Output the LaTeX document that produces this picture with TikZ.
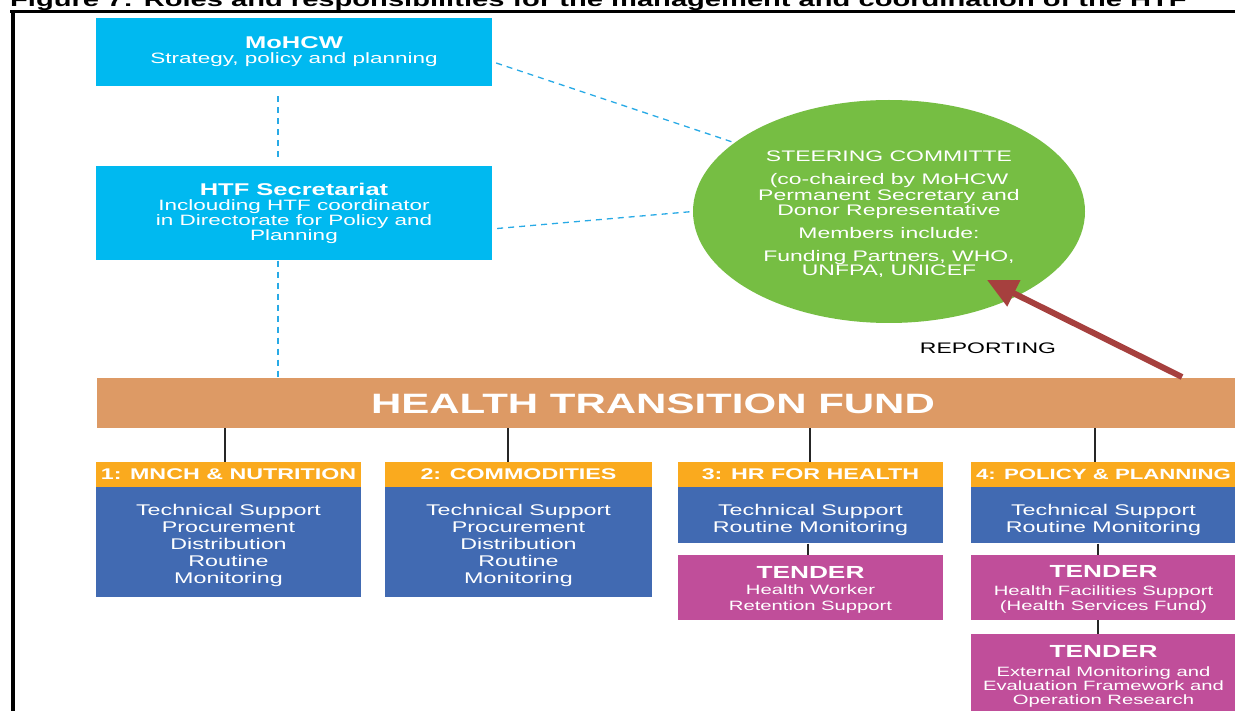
\documentclass[tikz,border=0pt]{standalone}
\usepackage{fontspec}
\setmainfont{Liberation Sans}[FakeStretch=1.5]
\usetikzlibrary{arrows.meta,shapes.geometric}
\definecolor{cyanbox}{RGB}{0,185,240}
\definecolor{dashc}{RGB}{40,170,230}
\definecolor{greenc}{RGB}{118,190,67}
\definecolor{barc}{RGB}{221,154,101}
\definecolor{headc}{RGB}{250,170,30}
\definecolor{bodyc}{RGB}{65,106,178}
\definecolor{tenderc}{RGB}{192,78,154}
\definecolor{arrowc}{RGB}{166,64,62}
\newcommand{\fs}[2]{\fontsize{#1}{#2}\selectfont}
\tikzset{
  base/.style={draw=none, inner sep=0pt, text=white, align=center},
  cyanbox/.style={base, fill=cyanbox},
  headbox/.style={base, fill=headc, minimum width=265pt, minimum height=25pt, font=\fs{15.5}{17}\bfseries},
  bodybox/.style={base, fill=bodyc, minimum width=265pt},
  bodytext/.style={base, font=\fs{15.5}{17}},
  tenderbox/.style={base, fill=tenderc, minimum width=265pt},
  sctext/.style={base, font=\fs{15.3}{14}},
  dashlink/.style={draw=dashc, line width=1.3pt, dash pattern=on 6pt off 5pt},
  treelink/.style={draw=black!85, line width=1.6pt},
}
\begin{document}
\begin{tikzpicture}[x=1pt,y=-1pt]
\clip (0,0) rectangle (1235,711);
\fill[white] (0,0) rectangle (1235,711);
% title (cut off) and frame
\node[anchor=base west, inner sep=0pt, font=\fs{19.4}{22}\bfseries] (title) at (10,7) {Figure 7: Roles and responsibilities for the management and coordination of the HTF};
\draw[line width=3pt] (10,11.5) -- (1240,11.5);
\draw[line width=4pt] (12.5,10) -- (12.5,715);
% top boxes
\node[cyanbox, minimum width=396pt, minimum height=68pt, font=\fs{15}{15}] (moh) at (294,52)
  {{\fs{17}{15}\bfseries MoHCW}\\ Strategy, policy and planning};
\node[cyanbox, minimum width=396pt, minimum height=94pt, font=\fs{15}{15}] (sec) at (294,213.5)
  {{\fs{17}{15}\bfseries HTF Secretariat}\\ Inclouding HTF coordinator\\ in Directorate for Policy and\\ Planning};
% steering committee
\node[ellipse, fill=greenc, inner sep=0pt, minimum width=392pt, minimum height=223pt,
  label={[sctext, yshift=-3pt]center:{STEERING COMMITTE\\[9pt] (co-chaired by MoHCW\\ Permanent Secretary and\\ Donor Representative\\[8pt] Members include:\\[9pt] Funding Partners, WHO,\\ UNFPA, UNICEF}}] (sc) at (889,211.5) {};
% bar
\node[base, fill=barc, minimum width=1150pt, minimum height=50pt, anchor=north west] (htf) at (97,378) {};
\node[base, font=\fs{28}{30}\bfseries] (htft) at (653,404) {HEALTH TRANSITION FUND};
% dashed links
\draw[dashlink] ([xshift=-16pt]moh.south) ++(0,10) -- ([xshift=-16pt,yshift=6pt]sec.north);
\draw[dashlink] ([xshift=-16pt]sec.south) -- ([xshift=-16pt]sec.south |- htf.north);
\draw[dashlink] ([xshift=4pt,yshift=-11pt]moh.east) -- (sc.156);
\draw[dashlink] ([xshift=5pt,yshift=-15pt]sec.east) -- (sc.west);
% reporting arrow
\coordinate (rep) at (1182,377);
\draw[arrowc, line width=6pt, -{Triangle[length=30pt,width=28pt]}] (rep) -- (987,280);
\node[base, text=black, font=\fs{15.3}{17}] (replabel) at (988,348.5) {REPORTING};
% columns
\node[headbox] (h1) at (228.5,474.5) {1: MNCH \& NUTRITION};
\node[headbox, minimum width=267pt] (h2) at (518.5,474.5) {2: COMMODITIES};
\node[headbox] (h3) at (810.5,474.5) {3: HR FOR HEALTH};
\node[headbox, font=\fs{14.8}{17}\bfseries] (h4) at (1103.5,474.5) {4: POLICY \& PLANNING};
\node[bodybox, minimum height=110pt, anchor=north,
  label={[bodytext, yshift=-3pt]center:{Technical Support\\ Procurement\\ Distribution\\ Routine\\ Monitoring}}] (b1) at (h1.south) {};
\node[bodybox, minimum width=267pt, minimum height=110pt, anchor=north,
  label={[bodytext, yshift=-3pt]center:{Technical Support\\ Procurement\\ Distribution\\ Routine\\ Monitoring}}] (b2) at (h2.south) {};
\node[bodybox, minimum height=56pt, anchor=north,
  label={[bodytext, yshift=-4.5pt]center:{Technical Support\\ Routine Monitoring}}] (b3) at (h3.south) {};
\node[bodybox, minimum height=56pt, anchor=north,
  label={[bodytext, yshift=-4.5pt]center:{Technical Support\\ Routine Monitoring}}] (b4) at (h4.south) {};
\node[tenderbox, minimum height=65pt,
  label={[base, font=\fs{13.5}{16}, yshift=-2pt]center:{{\fs{17.5}{17}\bfseries TENDER}\\ Health Worker\\ Retention Support}}] (t3) at (810.5,587.5) {};
\node[tenderbox, minimum height=65pt,
  label={[base, font=\fs{13.5}{15}, yshift=-2pt]center:{{\fs{17.5}{17}\bfseries TENDER}\\[3pt] Health Facilities Support\\ (Health Services Fund)}}] (t4) at (1103.5,587.5) {};
\node[tenderbox, minimum height=81pt,
  label={[base, font=\fs{13.5}{14}, yshift=-1.5pt]center:{{\fs{17.5}{17}\bfseries TENDER}\\[5pt] External Monitoring and\\ Evaluation Framework and\\ Operation Research}}] (t5) at (1103.5,674.5) {};
% tree links
\draw[treelink] ([xshift=-3.5pt]h1.north) -- ([xshift=-3.5pt]h1.north |- htf.south);
\draw[treelink] ([xshift=-10.5pt]h2.north) -- ([xshift=-10.5pt]h2.north |- htf.south);
\draw[treelink] ([xshift=-0.5pt]h3.north) -- ([xshift=-0.5pt]h3.north |- htf.south);
\draw[treelink] ([xshift=-8.5pt]h4.north) -- ([xshift=-8.5pt]h4.north |- htf.south);
\draw[treelink] ([xshift=-2.5pt]b3.south) -- ([xshift=-2.5pt]t3.north);
\draw[treelink] ([xshift=-5.5pt]b4.south) -- ([xshift=-5.5pt]t4.north);
\draw[treelink] ([xshift=-5.5pt]t4.south) -- ([xshift=-5.5pt]t5.north);
\end{tikzpicture}
\end{document}
